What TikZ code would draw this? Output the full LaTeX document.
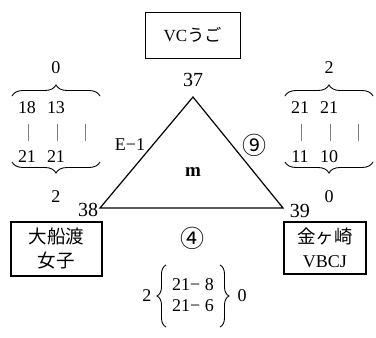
\documentclass[tikz,border=0pt]{standalone}
\usepackage{fontspec}
\setmainfont{Liberation Serif}
\newfontfamily\jp{Noto Sans CJK JP}
\usetikzlibrary{decorations.pathreplacing}
\tikzset{
  num/.style={inner sep=0pt,font=\fontsize{18}{20}\selectfont},
  vnum/.style={inner sep=0pt,font=\fontsize{20}{22}\selectfont},
  circ/.style={inner sep=0pt,font=\jp\fontsize{24}{26}\selectfont},
  topbox/.style={draw,line width=1pt,minimum width=95pt,minimum height=46pt,inner sep=0pt,font=\fontsize{17}{19}\selectfont},
  teambox/.style={draw,line width=2pt,inner sep=0pt,align=center,font=\jp\fontsize{18.5}{24}\selectfont},
  bar/.style={draw=gray,line width=0.9pt},
  hbrace/.style={draw,line width=0.9pt,decorate,decoration={brace,amplitude=11pt}},
  vbrace/.style={draw,line width=0.9pt,decorate,decoration={brace,amplitude=9pt}},
}
\begin{document}
\begin{tikzpicture}[x=1pt,y=-1pt]
\useasboundingbox (0,0) rectangle (376,338);
% top team
\node[topbox] (top) at (192.5,35) {\raisebox{-3pt}{VC{\jp うご}}};
% triangle
\coordinate (A) at (193,97);
\coordinate (B) at (100,208);
\coordinate (C) at (283,208);
\draw[line width=1.2pt] (A) -- (B) -- (C) -- cycle;
\node[vnum] (n37) at (193,80) {37};
\node[vnum] (n38) at (88,210) {38};
\node[vnum] (n39) at (300,211) {39};
\node[inner sep=0pt,font=\bfseries\fontsize{19}{21}\selectfont] (m) at (193,172) {m};
\node[num] (e1) at (130,145) {E−1};
\node[circ] (c9) at (255,145) {⑨};
\node[circ] (c4) at (193,238) {④};
% team boxes
\node[teambox,minimum width=91pt,minimum height=54pt] (left) at (56.5,249) {大船渡\\女子};
\node[teambox,minimum width=82pt,minimum height=52pt] (right) at (325,248) {金ヶ崎\\{\rmfamily\fontsize{18}{24}\selectfont VBCJ}};
% left group
\node[num] (l0) at (56,68) {0};
\coordinate (lt1) at (12,96); \coordinate (lt2) at (100,96);
\draw[hbrace] (lt1) -- (lt2);
\node[num] (la1) at (27,108) {18};
\node[num] (la2) at (56,108) {13};
\coordinate (lb1) at (28,124); \coordinate (lb1e) at (28,141);
\coordinate (lb2) at (57,124); \coordinate (lb2e) at (57,141);
\coordinate (lb3) at (85,124); \coordinate (lb3e) at (85,141);
\draw[bar] (lb1) -- (lb1e); \draw[bar] (lb2) -- (lb2e); \draw[bar] (lb3) -- (lb3e);
\node[num] (lc1) at (27,157) {21};
\node[num] (lc2) at (56,157) {21};
\coordinate (lu1) at (100,162); \coordinate (lu2) at (12,162);
\draw[hbrace] (lu1) -- (lu2);
\node[num] (l2) at (56,197) {2};
% right group
\node[num] (r2) at (329,68) {2};
\coordinate (rt1) at (285,96); \coordinate (rt2) at (373,96);
\draw[hbrace] (rt1) -- (rt2);
\node[num] (ra1) at (300,108) {21};
\node[num] (ra2) at (329,108) {21};
\coordinate (rb1) at (301,124); \coordinate (rb1e) at (301,141);
\coordinate (rb2) at (330,124); \coordinate (rb2e) at (330,141);
\coordinate (rb3) at (358,124); \coordinate (rb3e) at (358,141);
\draw[bar] (rb1) -- (rb1e); \draw[bar] (rb2) -- (rb2e); \draw[bar] (rb3) -- (rb3e);
\node[num] (rc1) at (300,157) {11};
\node[num] (rc2) at (329,157) {10};
\coordinate (ru1) at (373,162); \coordinate (ru2) at (285,162);
\draw[hbrace] (ru1) -- (ru2);
\node[num] (r0) at (329,197) {0};
% bottom set scores
\node[num] (b2) at (147,296) {2};
\coordinate (bl1) at (166,327); \coordinate (bl2) at (166,265);
\draw[vbrace] (bl1) -- (bl2);
\node[num] (s1) at (193,285) {21− 8};
\node[num] (s2) at (193,306) {21− 6};
\coordinate (br1) at (220,265); \coordinate (br2) at (220,327);
\draw[vbrace] (br1) -- (br2);
\node[num] (b0) at (242,296) {0};
\end{tikzpicture}
\end{document}
